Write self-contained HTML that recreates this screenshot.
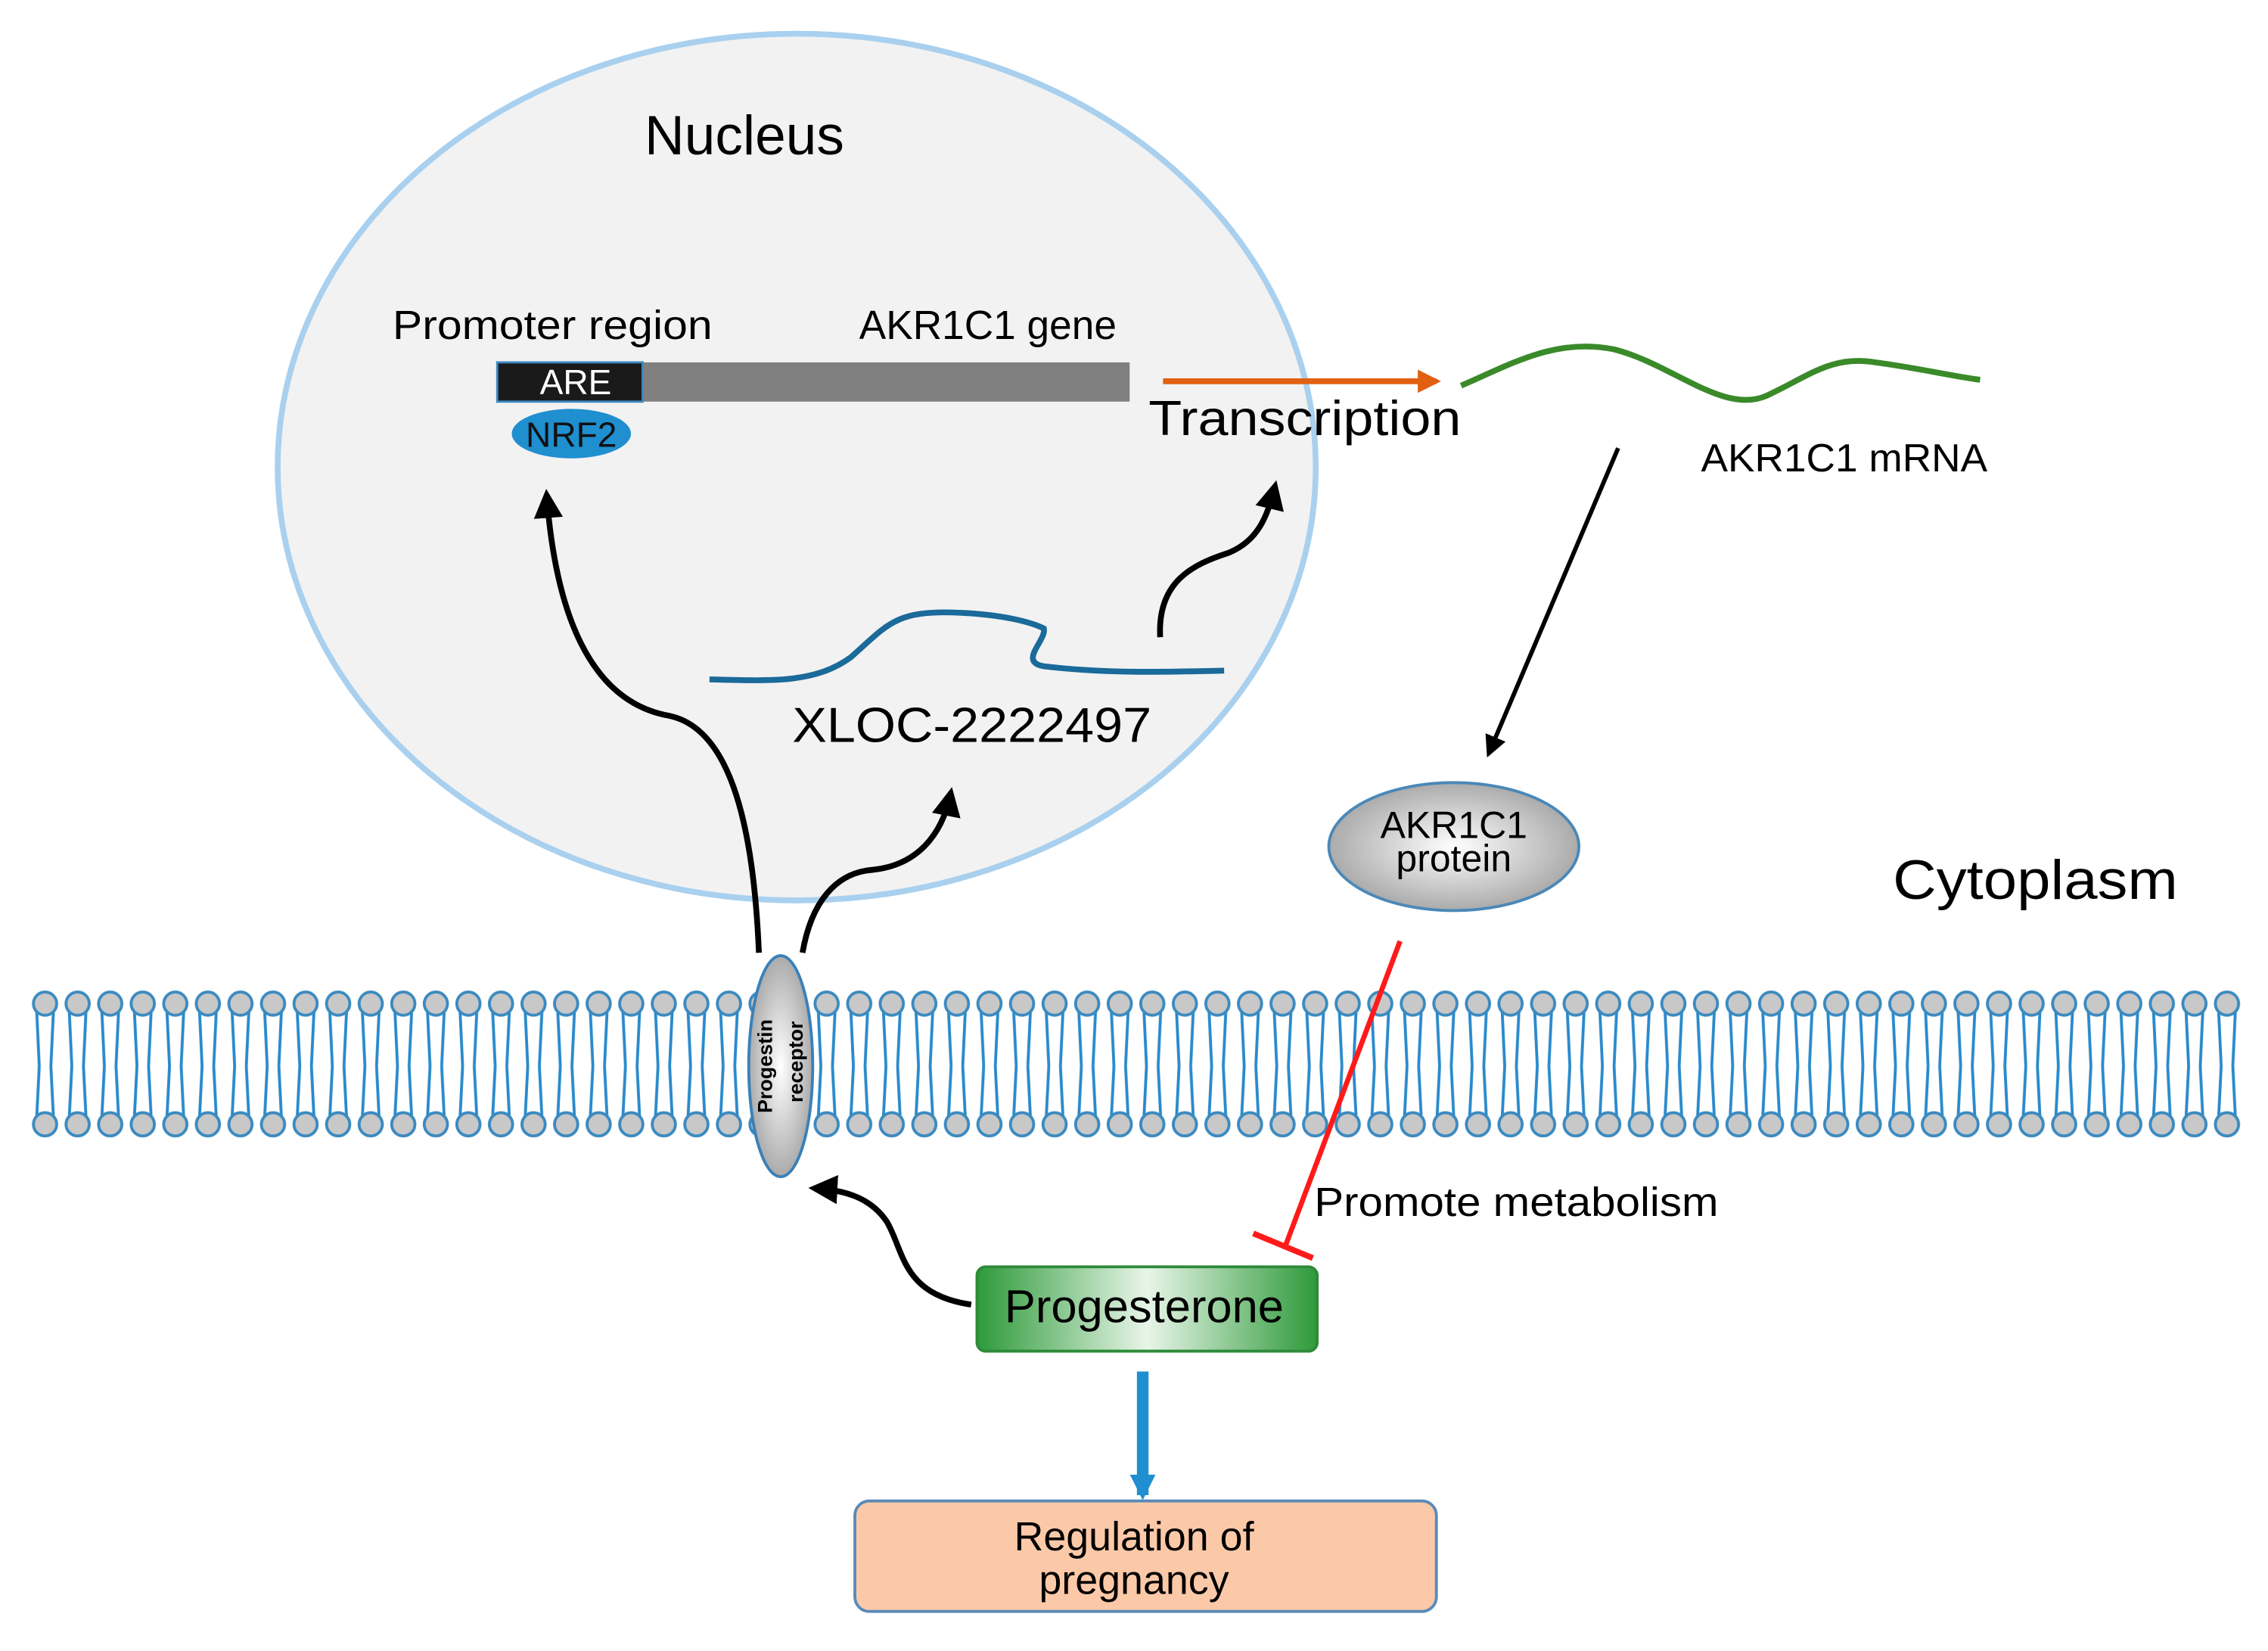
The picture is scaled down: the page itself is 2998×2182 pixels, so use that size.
<!DOCTYPE html>
<html><head><meta charset="utf-8"><style>html,body{margin:0;padding:0;background:#fff}svg{display:block}</style></head>
<body>
<svg width="2998" height="2182" viewBox="0 0 1560 1135" xmlns="http://www.w3.org/2000/svg" font-family="Liberation Sans, sans-serif">
<defs>
<radialGradient id="gr" cx="50%" cy="50%" r="60%"><stop offset="0" stop-color="#ffffff"/><stop offset="1" stop-color="#9a9a9a"/></radialGradient>
<linearGradient id="gg" x1="0" x2="1"><stop offset="0" stop-color="#2e9a3a"/><stop offset="0.5" stop-color="#e8f5e8"/><stop offset="1" stop-color="#2e9a3a"/></linearGradient>
<marker id="ah" viewBox="0 0 10 10" refX="8" refY="5" markerWidth="5" markerHeight="5" orient="auto"><path d="M0,0L10,5L0,10z" fill="#000"/></marker>
<marker id="ao" viewBox="0 0 10 10" refX="8" refY="5" markerWidth="4" markerHeight="4" orient="auto"><path d="M0,0L10,5L0,10z" fill="#e06010"/></marker>
<marker id="ab" viewBox="0 0 10 10" refX="8" refY="5" markerWidth="2.2" markerHeight="2.2" orient="auto"><path d="M0,0L10,5L0,10z" fill="#1f8fd0"/></marker>
<pattern id="lip" x="20" y="0" width="22.4" height="1135" patternUnits="userSpaceOnUse">
<path d="M5,690 L7,733 M17,690 L15,733 M7,733 L5,773 M15,733 L17,773" stroke="#2a8acc" stroke-width="2" fill="none"/>
<circle cx="11" cy="690" r="8" fill="#c8c8c8" stroke="#3a8ac0" stroke-width="2"/>
<circle cx="11" cy="773" r="8" fill="#c8c8c8" stroke="#3a8ac0" stroke-width="2"/>
</pattern>
</defs>
<ellipse cx="548" cy="321" rx="357" ry="298" fill="#f2f2f2" stroke="#a9d0ee" stroke-width="4"/>
<text x="512" y="106" font-size="38" text-anchor="middle">Nucleus</text>
<text x="270" y="233" font-size="28" textLength="220" lengthAdjust="spacingAndGlyphs">Promoter region</text>
<text x="591" y="233" font-size="28" textLength="177" lengthAdjust="spacingAndGlyphs">AKR1C1 gene</text>
<rect x="442" y="249" width="335" height="27" fill="#808080"/>
<rect x="342" y="249" width="100" height="27" fill="#1a1a1a" stroke="#3a8ac0" stroke-width="1.5"/>
<text x="396" y="271" font-size="24" fill="#fff" text-anchor="middle">ARE</text>
<ellipse cx="393" cy="298" rx="41" ry="17" fill="#1f8fd0"/>
<text x="393" y="307" font-size="24" text-anchor="middle" fill="#111">NRF2</text>
<line x1="800" y1="262" x2="988" y2="262" stroke="#e06010" stroke-width="4" marker-end="url(#ao)"/>
<text x="790" y="299" font-size="34" textLength="215" lengthAdjust="spacingAndGlyphs">Transcription</text>
<path d="M1005,265 C1040,250 1070,232 1110,240 C1150,250 1185,285 1215,272 C1245,258 1260,244 1290,249 C1320,253 1340,258 1362,261" stroke="#3a8a2a" stroke-width="4" fill="none"/>
<text x="1170" y="324" font-size="27" textLength="197" lengthAdjust="spacingAndGlyphs">AKR1C1 mRNA</text>
<line x1="1113" y1="308" x2="1024" y2="518" stroke="#000" stroke-width="3" marker-end="url(#ah)"/>
<ellipse cx="1000" cy="582" rx="86" ry="44" fill="url(#gr)" stroke="#4a88b8" stroke-width="2"/>
<text x="1000" y="576" font-size="26" text-anchor="middle">AKR1C1</text>
<text x="1000" y="599" font-size="26" text-anchor="middle">protein</text>
<text x="1302" y="618" font-size="38" textLength="196" lengthAdjust="spacingAndGlyphs">Cytoplasm</text>
<path d="M488,467 C530,468 560,470 585,452 C610,430 615,420 655,421 C690,422 710,428 718,432 C720,440 700,455 718,458 C760,463 800,462 842,461" stroke="#1a6a9a" stroke-width="4" fill="none"/>
<text x="545" y="510" font-size="34" textLength="247" lengthAdjust="spacingAndGlyphs">XLOC-2222497</text>
<rect x="19" y="678" width="1525" height="106" fill="url(#lip)"/>
<ellipse cx="537" cy="733" rx="22" ry="76" fill="url(#gr)" stroke="#3a80b8" stroke-width="2"/>
<text transform="translate(531,733) rotate(-90)" font-size="14" font-weight="bold" text-anchor="middle">Progestin</text>
<text transform="translate(552,730) rotate(-90)" font-size="14" font-weight="bold" text-anchor="middle">receptor</text>
<path d="M522,655 C518,560 500,500 460,492 C405,482 382,420 376,340" stroke="#000" stroke-width="4" fill="none" marker-end="url(#ah)"/>
<path d="M552,655 C558,620 575,600 600,598 C630,595 648,575 654,545" stroke="#000" stroke-width="4" fill="none" marker-end="url(#ah)"/>
<path d="M798,438 C796,400 820,388 845,380 C865,372 872,355 877,334" stroke="#000" stroke-width="4" fill="none" marker-end="url(#ah)"/>
<path d="M668,897 C620,890 622,860 610,840 C598,822 578,818 560,817" stroke="#000" stroke-width="4" fill="none" marker-end="url(#ah)"/>
<line x1="963" y1="647" x2="884" y2="857" stroke="#ff1a1a" stroke-width="3.5"/>
<line x1="862" y1="848" x2="903" y2="865" stroke="#ff1a1a" stroke-width="4"/>
<text x="904" y="836" font-size="28" textLength="278" lengthAdjust="spacingAndGlyphs">Promote metabolism</text>
<rect x="672" y="871" width="234" height="58" rx="6" fill="url(#gg)" stroke="#2e8a3a" stroke-width="2"/>
<text x="787" y="909" font-size="32" text-anchor="middle">Progesterone</text>
<line x1="786" y1="943" x2="786" y2="1028" stroke="#1f8fd0" stroke-width="8" marker-end="url(#ab)"/>
<rect x="588" y="1032" width="400" height="76" rx="10" fill="#fcc9a8" stroke="#5a8ab8" stroke-width="2"/>
<text x="780" y="1066" font-size="28" text-anchor="middle">Regulation of</text>
<text x="780" y="1096" font-size="28" text-anchor="middle">pregnancy</text>
</svg>
</body></html>
